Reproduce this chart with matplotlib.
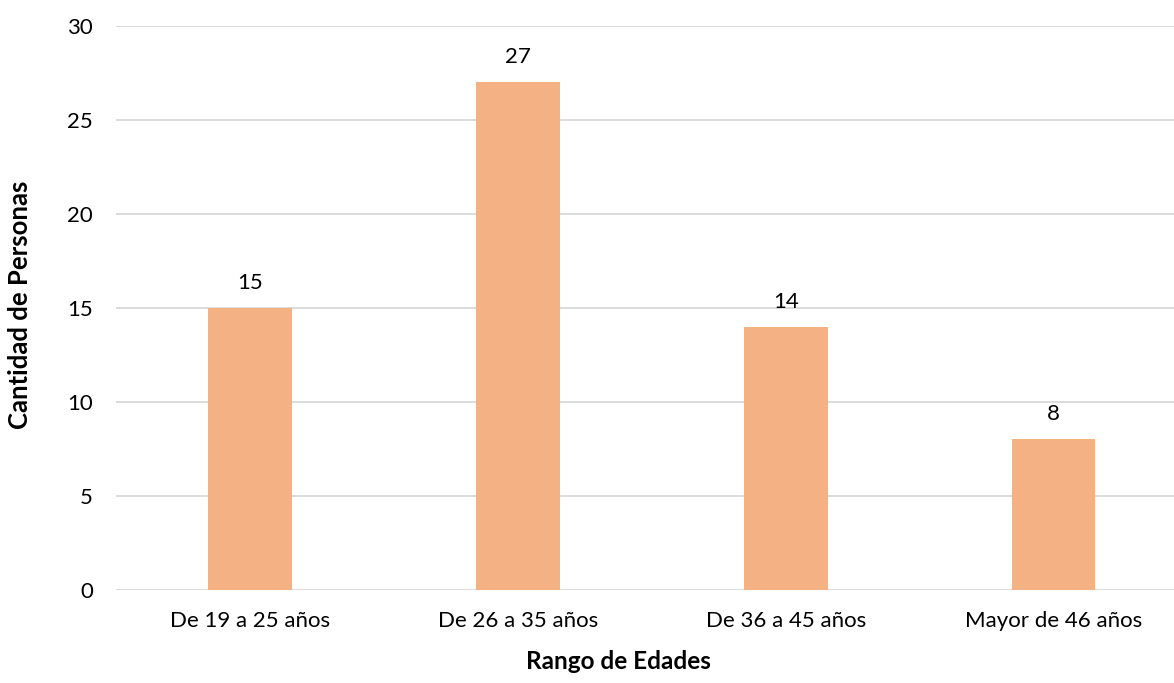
import matplotlib
matplotlib.use("Agg")
import matplotlib.pyplot as plt

categories = ["De 19 a 25 años", "De 26 a 35 años", "De 36 a 45 años", "Mayor de 46 años"]
values = [15, 27, 14, 8]
yticks = [0, 5, 10, 15, 20, 25, 30]

plt.rcParams['font.family'] = ['Lato', 'DejaVu Sans']

W, H = 1174, 683
fig = plt.figure(figsize=(W / 100, H / 100), dpi=100)
ax = fig.add_axes([116 / W, 93.3 / H, 1071.4 / W, 563.7 / H])

x = range(len(categories))
ax.bar(x, values, width=0.313, color="#F4B183", zorder=3)
for xi, v in zip(x, values):
    ax.annotate(str(v), (xi, v), xytext=(0, 13.7), textcoords="offset points",
                ha="center", va="baseline", fontsize=16, color="#000000")

ax.set_xlim(-0.5, len(categories) - 0.5)
ax.set_ylim(0, 30)
ax.set_yticks(yticks)
ax.set_xticks(list(x))
ax.set_xticklabels(categories, fontsize=16)
ax.tick_params(axis="y", labelsize=16, length=0, pad=16.5)
ax.tick_params(axis="x", length=0, pad=15)
ax.grid(axis="y", color="#D9D9D9", linewidth=1.3, zorder=0)
for s in ax.spines.values():
    s.set_visible(False)

fig.text(618 / W, 1 - 669 / H, "Rango de Edades", ha="center", va="baseline",
         fontsize=17.5, fontweight="bold")
fig.text(20 / W, 1 - 305 / H, "Cantidad de Personas", ha="center", va="center",
         rotation=90, fontsize=18.5, fontweight="bold")

fig.savefig("out.png", dpi=100)
